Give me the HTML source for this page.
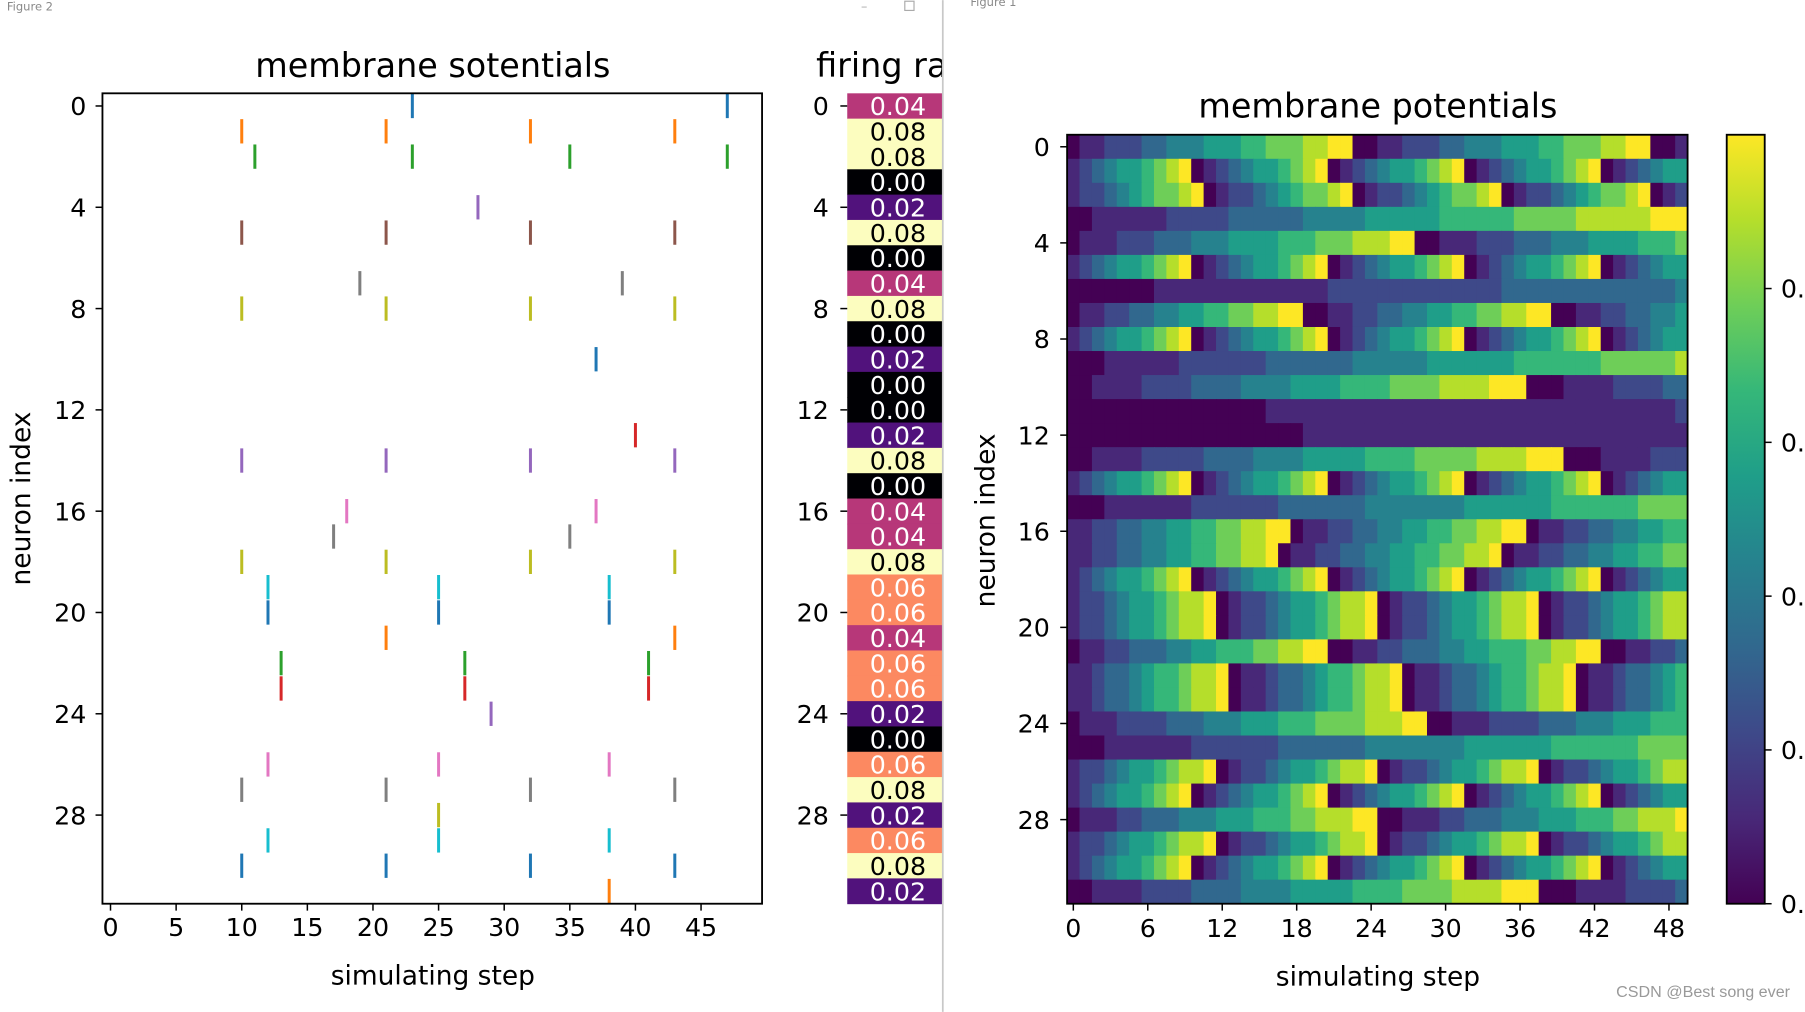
<!DOCTYPE html>
<html><head><meta charset="utf-8"><title>membrane potentials</title>
<style>
html,body{margin:0;padding:0;background:#fff;overflow:hidden}
svg{display:block;font-family:"DejaVu Sans","Liberation Sans",sans-serif}
</style></head>
<body>
<svg id="fig" width="1805" height="1012" viewBox="0 0 1568 879" xmlns="http://www.w3.org/2000/svg">
<rect x="0" y="0" width="1568" height="879" fill="#fff"/>
<g id="left"></g>
<rect x="819" y="0" width="749" height="879" fill="#fff"/>
<line x1="819" y1="0" x2="819" y2="879" stroke="#c8c8c8" stroke-width="1.5"/>
<g id="right"></g>
<text x="6" y="9" font-size="10" fill="#8a8a8a">Figure 2</text>
<text x="843" y="5" font-size="10" fill="#8a8a8a">Figure 1</text>
<text x="748" y="9" font-size="11" fill="#aaa">–</text>
<rect x="786" y="1" width="8" height="8" fill="none" stroke="#aaa"/>
<text x="1555" y="866" font-size="14" fill="#999" text-anchor="end" font-family="Liberation Sans, sans-serif">CSDN @Best song ever</text>
</svg>
<script>
const spikeTimes = [[23,47],[10,21,32,43],[11,23,35,47],[],[28],[10,21,32,43],[],[19,39],[10,21,32,43],[],[37],[],[],[40],[10,21,32,43],[],[18,37],[17,35],[10,21,32,43],[12,25,38],[12,25,38],[21,43],[13,27,41],[13,27,41],[29],[],[12,25,38],[10,21,32,43],[25],[12,25,38],[10,21,32,43],[38]];
const firingRates = [0.04,0.08,0.08,0.00,0.02,0.08,0.00,0.04,0.08,0.00,0.02,0.00,0.00,0.02,0.08,0.00,0.04,0.04,0.08,0.06,0.06,0.04,0.06,0.06,0.02,0.00,0.06,0.08,0.02,0.06,0.08,0.02];
const rasterXTicks = [0,5,10,15,20,25,30,35,40,45];
const neuronTicks = [0,4,8,12,16,20,24,28];
const heatXTicks = [0,6,12,18,24,30,36,42,48];
const cbarTickLabels = ["0.8","0.6","0.4","0.2","0.0"];
const cbarTickFrac = [0.8,0.6,0.4,0.2,0.0];
const D10 = "1234556789"+"0"+"1234556789"+"0"+"1234556789"+"0"+"1234556789"+"0"+"123455";
const D12 = "122345567889"+"0"+"122345567889"+"0"+"122345567889"+"0"+"12234556788";
const D13 = "1123345667889"+"0"+"1123345667889"+"0"+"1123345667889"+"0"+"11233456";
const SLOW7 = "000"+"1111111"+"2222222"+"3333333"+"44444444"+"5555555"+"6666666"+"7777";
const potentialLevels = [
"01122233444555667778899"+"0"+"01122233444555667778899"+"0"+"01",
D10,
"12234567789"+"0"+"12234567789"+"0"+"12234567789"+"0"+"12234567789"+"0"+"12",
"00"+"111111"+"22222"+"333333"+"44444"+"555555"+"666666"+"77777"+"888888"+"999",
"0111222333444555566677788899"+"0"+"011122233344455556667",
D10,
"0000000"+"11111111111111"+"22222222222222"+"33333333333333"+"4",
"0112233445566778899"+"0"+"0112233445566778899"+"0"+"0112233445",
D10,
"000"+"111111"+"2222222"+"3333333"+"444444"+"5555555"+"6666666"+"777777"+"8",
"0011112222333344445555666677778888999"+"0"+"001111222233",
"0000000000000000"+"11111111111"+"11111111111"+"11111111111"+"2",
"0000000000000000000"+"1111111111"+"1111111111"+"11111111111",
"0011112222233334444555556666777778888999"+"0"+"001111222",
D10,
SLOW7,
"112233445566778899"+"0"+"112233445566778899"+"0"+"112233445566",
"11223344556677889"+"0"+"11223344556677889"+"0"+"11223344556677",
D10,
D12,
D12,
"011223334455666778899"+"0"+"011223334455666778899"+"0"+"011223",
D13,
D13,
"01112222333444555666777788899"+"0"+"01112222333444555666",
SLOW7,
D12,
D10,
"0111223334445556667788899"+"0"+"011122333444555666778889",
D12,
D10,
"00111122223333444455555666677778888999"+"0"+"00111122223"
];

const NS="http://www.w3.org/2000/svg";
const tab10=["#1f77b4","#ff7f0e","#2ca02c","#d62728","#9467bd","#8c564b","#e377c2","#7f7f7f","#bcbd22","#17becf"];
const viridis=["#440154","#482878","#3e4989","#31688e","#26828e","#1f9e89","#35b779","#6ece58","#b5de2b","#fde725"];
function el(parent,tag,attrs,txt){const e=document.createElementNS(NS,tag);for(const k in attrs)e.setAttribute(k,attrs[k]);if(txt!==undefined)e.textContent=txt;parent.appendChild(e);return e;}
function hex(c){return [parseInt(c.slice(1,3),16),parseInt(c.slice(3,5),16),parseInt(c.slice(5,7),16)];}
function magma(t){const st=[[0,"#000004"],[0.25,"#51127c"],[0.5,"#b73779"],[0.75,"#fc8961"],[1,"#fcfdbf"]];
 for(let i=0;i<st.length-1;i++){if(t<=st[i+1][0]){const f=(t-st[i][0])/(st[i+1][0]-st[i][0]);const a=hex(st[i][1]),b=hex(st[i+1][1]);return "rgb("+a.map((v,j)=>Math.round(v+(b[j]-v)*f)).join(",")+")";}}return st[4][1];}

const L=document.getElementById('left');
const rx0=89,rx1=662,ry0=81,ry1=785,nRows=32;
const rowH=(ry1-ry0)/nRows;
const yRow=i=>ry0+(i+0.5)*rowH;
const xStep=v=>96+v*11.4;
let t;
t=el(L,'text',{x:376,y:67,'font-size':29,'text-anchor':'middle'},'membrane sotentials');


spikeTimes.forEach((row,i)=>{row.forEach(s=>{
 const ln=el(L,'line',{x1:xStep(s),x2:xStep(s),y1:yRow(i)-rowH*0.48,y2:yRow(i)+rowH*0.48,stroke:tab10[i%10],'stroke-width':2.6});
 
 
});});
t=el(L,'rect',{x:rx0,y:ry0,width:rx1-rx0,height:ry1-ry0,fill:'none',stroke:'#000','stroke-width':1.6});


neuronTicks.forEach(v=>{
 const y=yRow(v);
 const tk=el(L,'line',{x1:rx0-6,x2:rx0,y1:y,y2:y,stroke:'#000','stroke-width':1.3});
 
 
 const lb=el(L,'text',{x:rx0-14,y:y+8,'font-size':22,'text-anchor':'end'},String(v));
 
 
});
rasterXTicks.forEach(v=>{
 const x=xStep(v);
 const tk=el(L,'line',{x1:x,x2:x,y1:ry1,y2:ry1+6,stroke:'#000','stroke-width':1.3});
 
 
 const lb=el(L,'text',{x:x,y:ry1+28,'font-size':22,'text-anchor':'middle'},String(v));
 
 
});
t=el(L,'text',{x:376,y:855,'font-size':23,'text-anchor':'middle'},'simulating step');


t=el(L,'text',{x:0,y:0,'font-size':23,'text-anchor':'middle',transform:'translate(26,433) rotate(-90)'},'neuron index');



const fx0=736,fx1=830;
t=el(L,'text',{x:709,y:67,'font-size':29},'firing rates');


firingRates.forEach((r,i)=>{
 const c=el(L,'rect',{x:fx0,y:ry0+i*rowH,width:fx1-fx0,height:rowH+0.4,fill:magma(r/0.08)});
 
 
 const lb=el(L,'text',{x:780,y:yRow(i)+8,'font-size':22,'text-anchor':'middle',fill:r>=0.07?'#000':'#fff'},r.toFixed(2));
 
 
});
neuronTicks.forEach(v=>{
 const y=yRow(v);
 const tk=el(L,'line',{x1:fx0-6,x2:fx0,y1:y,y2:y,stroke:'#000','stroke-width':1.3});
 
 
 const lb=el(L,'text',{x:fx0-16,y:y+8,'font-size':22,'text-anchor':'end'},String(v));
 
 
});

const R=document.getElementById('right');
const hx0=927,hx1=1466,hy0=117,hy1=785,nCols=50;
const cw=(hx1-hx0)/nCols,ch=(hy1-hy0)/nRows;
const xCol=c=>hx0+(c+0.5)*cw, yH=i=>hy0+(i+0.5)*ch;
t=el(R,'text',{x:1197,y:102,'font-size':29,'text-anchor':'middle'},'membrane potentials');


potentialLevels.forEach((row,i)=>{
 for(let c=0;c<Math.min(nCols,row.length);c++){
  const lv=parseInt(row[c],10);
  const cell=el(R,'rect',{x:hx0+c*cw,y:hy0+i*ch,width:cw+0.5,height:ch+0.5,fill:viridis[lv]});
  
  
 }
});
t=el(R,'rect',{x:hx0,y:hy0,width:hx1-hx0,height:hy1-hy0,fill:'none',stroke:'#000','stroke-width':1.6});


neuronTicks.forEach(v=>{
 const y=yH(v);
 const tk=el(R,'line',{x1:hx0-6,x2:hx0,y1:y,y2:y,stroke:'#000','stroke-width':1.3});
 
 
 const lb=el(R,'text',{x:hx0-15,y:y+8,'font-size':22,'text-anchor':'end'},String(v));
 
 
});
heatXTicks.forEach(v=>{
 const x=xCol(v);
 const tk=el(R,'line',{x1:x,x2:x,y1:hy1,y2:hy1+6,stroke:'#000','stroke-width':1.3});
 
 
 const lb=el(R,'text',{x:x,y:hy1+29,'font-size':22,'text-anchor':'middle'},String(v));
 
 
});
t=el(R,'text',{x:1197,y:856,'font-size':23,'text-anchor':'middle'},'simulating step');


t=el(R,'text',{x:0,y:0,'font-size':23,'text-anchor':'middle',transform:'translate(864,452) rotate(-90)'},'neuron index');



const defs=el(R,'defs',{});
const g=el(defs,'linearGradient',{id:'vir',x1:0,y1:1,x2:0,y2:0});
viridis.forEach((c,i)=>el(g,'stop',{offset:(i/9),'stop-color':c}));
const cbx=1500,cbw=33;
t=el(R,'rect',{x:cbx,y:hy0,width:cbw,height:hy1-hy0,fill:'url(#vir)',stroke:'#000','stroke-width':1.6});


cbarTickLabels.forEach((s,i)=>{
 const yy=hy0+(hy1-hy0)*(1-cbarTickFrac[i])+ (cbarTickFrac[i]>0?0:0);
 const tk=el(R,'line',{x1:cbx+cbw,x2:cbx+cbw+6,y1:yy,y2:yy,stroke:'#000','stroke-width':1.3});
 
 
 const lb=el(R,'text',{x:cbx+cbw+14,y:yy+8,'font-size':22},s);
 
 
});
</script>
</body></html>
